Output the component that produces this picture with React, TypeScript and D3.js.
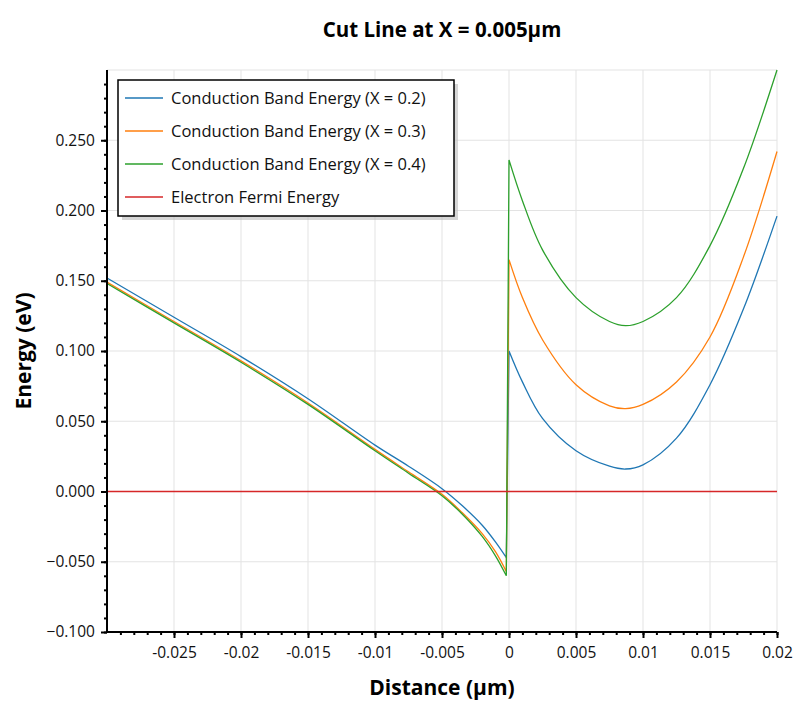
import React, { useEffect, useRef } from "react";
import * as d3 from "d3";

const leftX = [-0.03, -0.025, -0.02, -0.015, -0.01, -0.0075, -0.005, -0.0035, -0.002, -0.001, -0.0002];
const leftBlue = [0.152, 0.124, 0.096, 0.066, 0.033, 0.018, 0.002, -0.010, -0.024, -0.036, -0.047];
const leftOrange = [0.149, 0.121, 0.093, 0.063, 0.030, 0.014, -0.002, -0.015, -0.030, -0.043, -0.057];
const leftGreen = [0.148, 0.120, 0.092, 0.062, 0.029, 0.013, -0.003, -0.016, -0.032, -0.046, -0.060];

const rightX = [0, 0.001, 0.0025, 0.005, 0.0075, 0.0087, 0.01, 0.0125, 0.015, 0.0175, 0.02];
const rightBlue = [0.100, 0.078, 0.052, 0.029, 0.018, 0.016, 0.019, 0.038, 0.076, 0.13, 0.196];
const rightOrange = [0.165, 0.138, 0.108, 0.076, 0.061, 0.059, 0.062, 0.078, 0.11, 0.167, 0.242];
const rightGreen = [0.236, 0.207, 0.172, 0.138, 0.121, 0.118, 0.121, 0.138, 0.175, 0.23, 0.300];

const seriesNames = ["Conduction Band Energy (X = 0.2)", "Conduction Band Energy (X = 0.3)", "Conduction Band Energy (X = 0.4)", "Electron Fermi Energy"];
const colors = ["#1f77b4", "#ff7f0e", "#2ca02c", "#d62728"];
const xTicks = [-0.025, -0.02, -0.015, -0.01, -0.005, 0, 0.005, 0.01, 0.015, 0.02];
const yTicks = [-0.1, -0.05, 0, 0.05, 0.1, 0.15, 0.2, 0.25];

const App: React.FC = () => {
  const svgRef = useRef<SVGSVGElement | null>(null);

  useEffect(() => {
    const svg = d3.select(svgRef.current!);
    svg.selectAll("*").remove();
    const font = "'Open Sans', 'Noto Sans', sans-serif";
    const L = 107, R = 777, T = 70, B = 632;
    const x = d3.scaleLinear().domain([-0.03, 0.02]).range([L, R]);
    const y = d3.scaleLinear().domain([-0.1, 0.3]).range([B, T]);

    // grid
    const g = svg.append("g");
    xTicks.forEach((t) => g.append("line").attr("x1", x(t)).attr("x2", x(t)).attr("y1", T).attr("y2", B).attr("stroke", "#e3e3e3"));
    yTicks.concat([0.3]).forEach((t) => g.append("line").attr("x1", L).attr("x2", R).attr("y1", y(t)).attr("y2", y(t)).attr("stroke", "#e3e3e3"));

    // curves
    const line = d3.line<[number, number]>().x((d) => x(d[0])).y((d) => y(d[1])).curve(d3.curveCatmullRom.alpha(0.5));
    const sets = [[leftBlue, rightBlue], [leftOrange, rightOrange], [leftGreen, rightGreen]];
    sets.forEach(([l, r], i) => {
      const left = leftX.map((v, k) => [v, l[k]] as [number, number]);
      const right = rightX.map((v, k) => [v, r[k]] as [number, number]);
      svg.append("path").attr("d", line(left)! + "L" + x(rightX[0]) + "," + y(r[0]) + line(right)!.replace(/^M/, "L"))
        .attr("fill", "none").attr("stroke", colors[i]).attr("stroke-width", 1.3);
    });
    svg.append("line").attr("x1", L).attr("x2", R).attr("y1", y(0)).attr("y2", y(0)).attr("stroke", colors[3]).attr("stroke-width", 1.3);

    // axes
    const xa = svg.append("g").attr("transform", `translate(0,${B})`)
      .call(d3.axisBottom(x).tickValues(d3.range(-29, 21).map((v) => v / 1000)).tickSize(3).tickFormat(() => ""));
    xa.select(".domain").remove();
    const xb = svg.append("g").attr("transform", `translate(0,${B})`)
      .call(d3.axisBottom(x).tickValues(xTicks).tickSize(6).tickFormat((d) => String(+d)));
    xb.select(".domain").remove();
    xb.selectAll("text").attr("font-size", 15.5).attr("font-family", font).attr("dy", "1.1em").attr("fill", "#111");
    const ya = svg.append("g").attr("transform", `translate(${L},0)`)
      .call(d3.axisLeft(y).tickValues(d3.range(-10, 30).map((v) => v / 100)).tickSize(3).tickFormat(() => ""));
    ya.select(".domain").remove();
    const yb = svg.append("g").attr("transform", `translate(${L},0)`)
      .call(d3.axisLeft(y).tickValues(yTicks).tickSize(6).tickFormat(d3.format(".3f")));
    yb.select(".domain").remove();
    yb.selectAll("text").attr("font-size", 15.5).attr("font-family", font).attr("fill", "#111").attr("dx", "-0.2em");
    svg.selectAll(".tick line").attr("stroke-width", 2);
    svg.append("path").attr("d", `M${L},${T}V${B}H${R}`).attr("fill", "none").attr("stroke", "#000").attr("stroke-width", 2);

    // titles
    svg.append("text").attr("x", 442).attr("y", 37).attr("text-anchor", "middle").attr("font-family", font)
      .attr("font-weight", "bold").attr("font-size", 20.5).text("Cut Line at X = 0.005µm");
    svg.append("text").attr("x", 442).attr("y", 695).attr("text-anchor", "middle").attr("font-family", font)
      .attr("font-weight", "bold").attr("font-size", 21).text("Distance (µm)");
    svg.append("text").attr("transform", "translate(31,351) rotate(-90)").attr("text-anchor", "middle").attr("font-family", font)
      .attr("font-weight", "bold").attr("font-size", 21).text("Energy (eV)");

    // legend
    const lg = svg.append("g").attr("transform", "translate(118,80)");
    lg.append("rect").attr("x", 4).attr("y", 4).attr("width", 336).attr("height", 136).attr("fill", "#bbb").attr("opacity", 0.6);
    lg.append("rect").attr("width", 336).attr("height", 136).attr("fill", "#fff").attr("stroke", "#000").attr("stroke-width", 1.5);
    seriesNames.forEach((n, i) => {
      const yy = 18 + i * 33;
      lg.append("line").attr("x1", 7).attr("x2", 45).attr("y1", yy).attr("y2", yy).attr("stroke", colors[i]).attr("stroke-width", 1.5);
      lg.append("text").attr("x", 53).attr("y", yy + 5.5).attr("font-family", font).attr("font-size", 16.5).attr("fill", "#111").text(n);
    });
  }, []);

  return <svg ref={svgRef} width={799} height={710} style={{ position: "absolute", left: 0, top: 0, background: "#fff" }} />;
};

export default App;
